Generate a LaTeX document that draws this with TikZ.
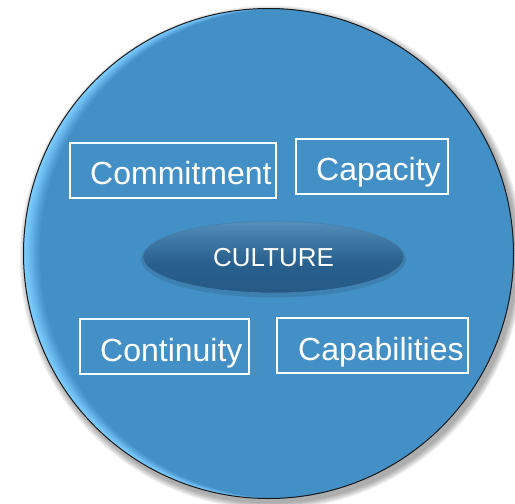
\documentclass[tikz,border=0pt]{standalone}
\usepackage{fontspec}
\setmainfont{Liberation Sans}
\usetikzlibrary{shapes.geometric}
\definecolor{circbase}{RGB}{67,144,199}
\definecolor{circlight}{RGB}{125,205,255}
\definecolor{elltop}{RGB}{110,168,212}
\definecolor{elltopb}{RGB}{62,120,165}
\definecolor{ellmid}{RGB}{40,95,140}
\definecolor{ellbot}{RGB}{36,86,130}
\definecolor{ellrim}{RGB}{70,130,175}
\pgfdeclareverticalshading{ellshade}{100bp}{color(0bp)=(ellrim); color(4bp)=(ellbot); color(45bp)=(ellmid); color(62bp)=(elltopb); color(90bp)=(elltop); color(100bp)=(elltop)}
\tikzset{
  labelbox/.style={draw=white, line width=1.4pt, inner sep=0pt, rectangle},
  labeltext/.style={text=white, inner sep=0pt, anchor=base west, font=\fontsize{32}{36}\selectfont},
}
\begin{document}
\begin{tikzpicture}[x=1pt,y=-1pt]
\fill[white] (0,0) rectangle (515,504);
\useasboundingbox (0,0) rectangle (515,504);
% shadow of big circle
\foreach \r in {7,6,5,4,3,2,1}{
  \fill[black, opacity=0.05] (271.5,257.5) circle (245+\r);
}
% big circle with left rim highlight
\begin{scope}
  \clip (268.5,253.5) circle (245);
  \fill[circlight] (268.5,253.5) circle (245);
  \foreach \i/\m in {1/8,2/18,3/30,4/42,5/55,6/68,7/80,8/90,9/100}{
    \fill[circbase!\m!circlight] (268.5+1.8*\i,253.5) circle (245);
  }
\end{scope}
\node[circle, draw=black!90, line width=1pt, minimum size=490pt, inner sep=0pt] (disc) at (268.5,253.5) {};
% CULTURE ellipse
\fill[black, opacity=0.10] (273.5,259.5) ellipse (132.5 and 38);
\shade[shading=ellshade] (273.5,257) ellipse (130.5 and 36);
\node[ellipse, draw=ellrim, line width=0.6pt, minimum width=261pt, minimum height=72pt, inner sep=0pt] (culture) at (273.5,257) {};
\node[text=white, inner sep=0pt, font=\fontsize{26}{30}\selectfont] (culturetext) at (273.5,258) {CULTURE};
% boxes
\node[labelbox, minimum width=206pt, minimum height=55pt] (commitbox) at (173,170.5) {};
\node[labeltext] (committext) at (90,184) {Commitment};
\node[labelbox, minimum width=152pt, minimum height=55pt] (capacbox) at (372,166.5) {};
\node[labeltext] (capactext) at (316,180) {Capacity};
\node[labelbox, minimum width=169pt, minimum height=55pt] (continbox) at (164.5,346.5) {};
\node[labeltext] (contintext) at (100,361) {Continuity};
\node[labelbox, minimum width=191pt, minimum height=55pt] (capabbox) at (372.5,345.5) {};
\node[labeltext] (capabtext) at (298,360) {Capabilities};
\end{tikzpicture}
\end{document}
